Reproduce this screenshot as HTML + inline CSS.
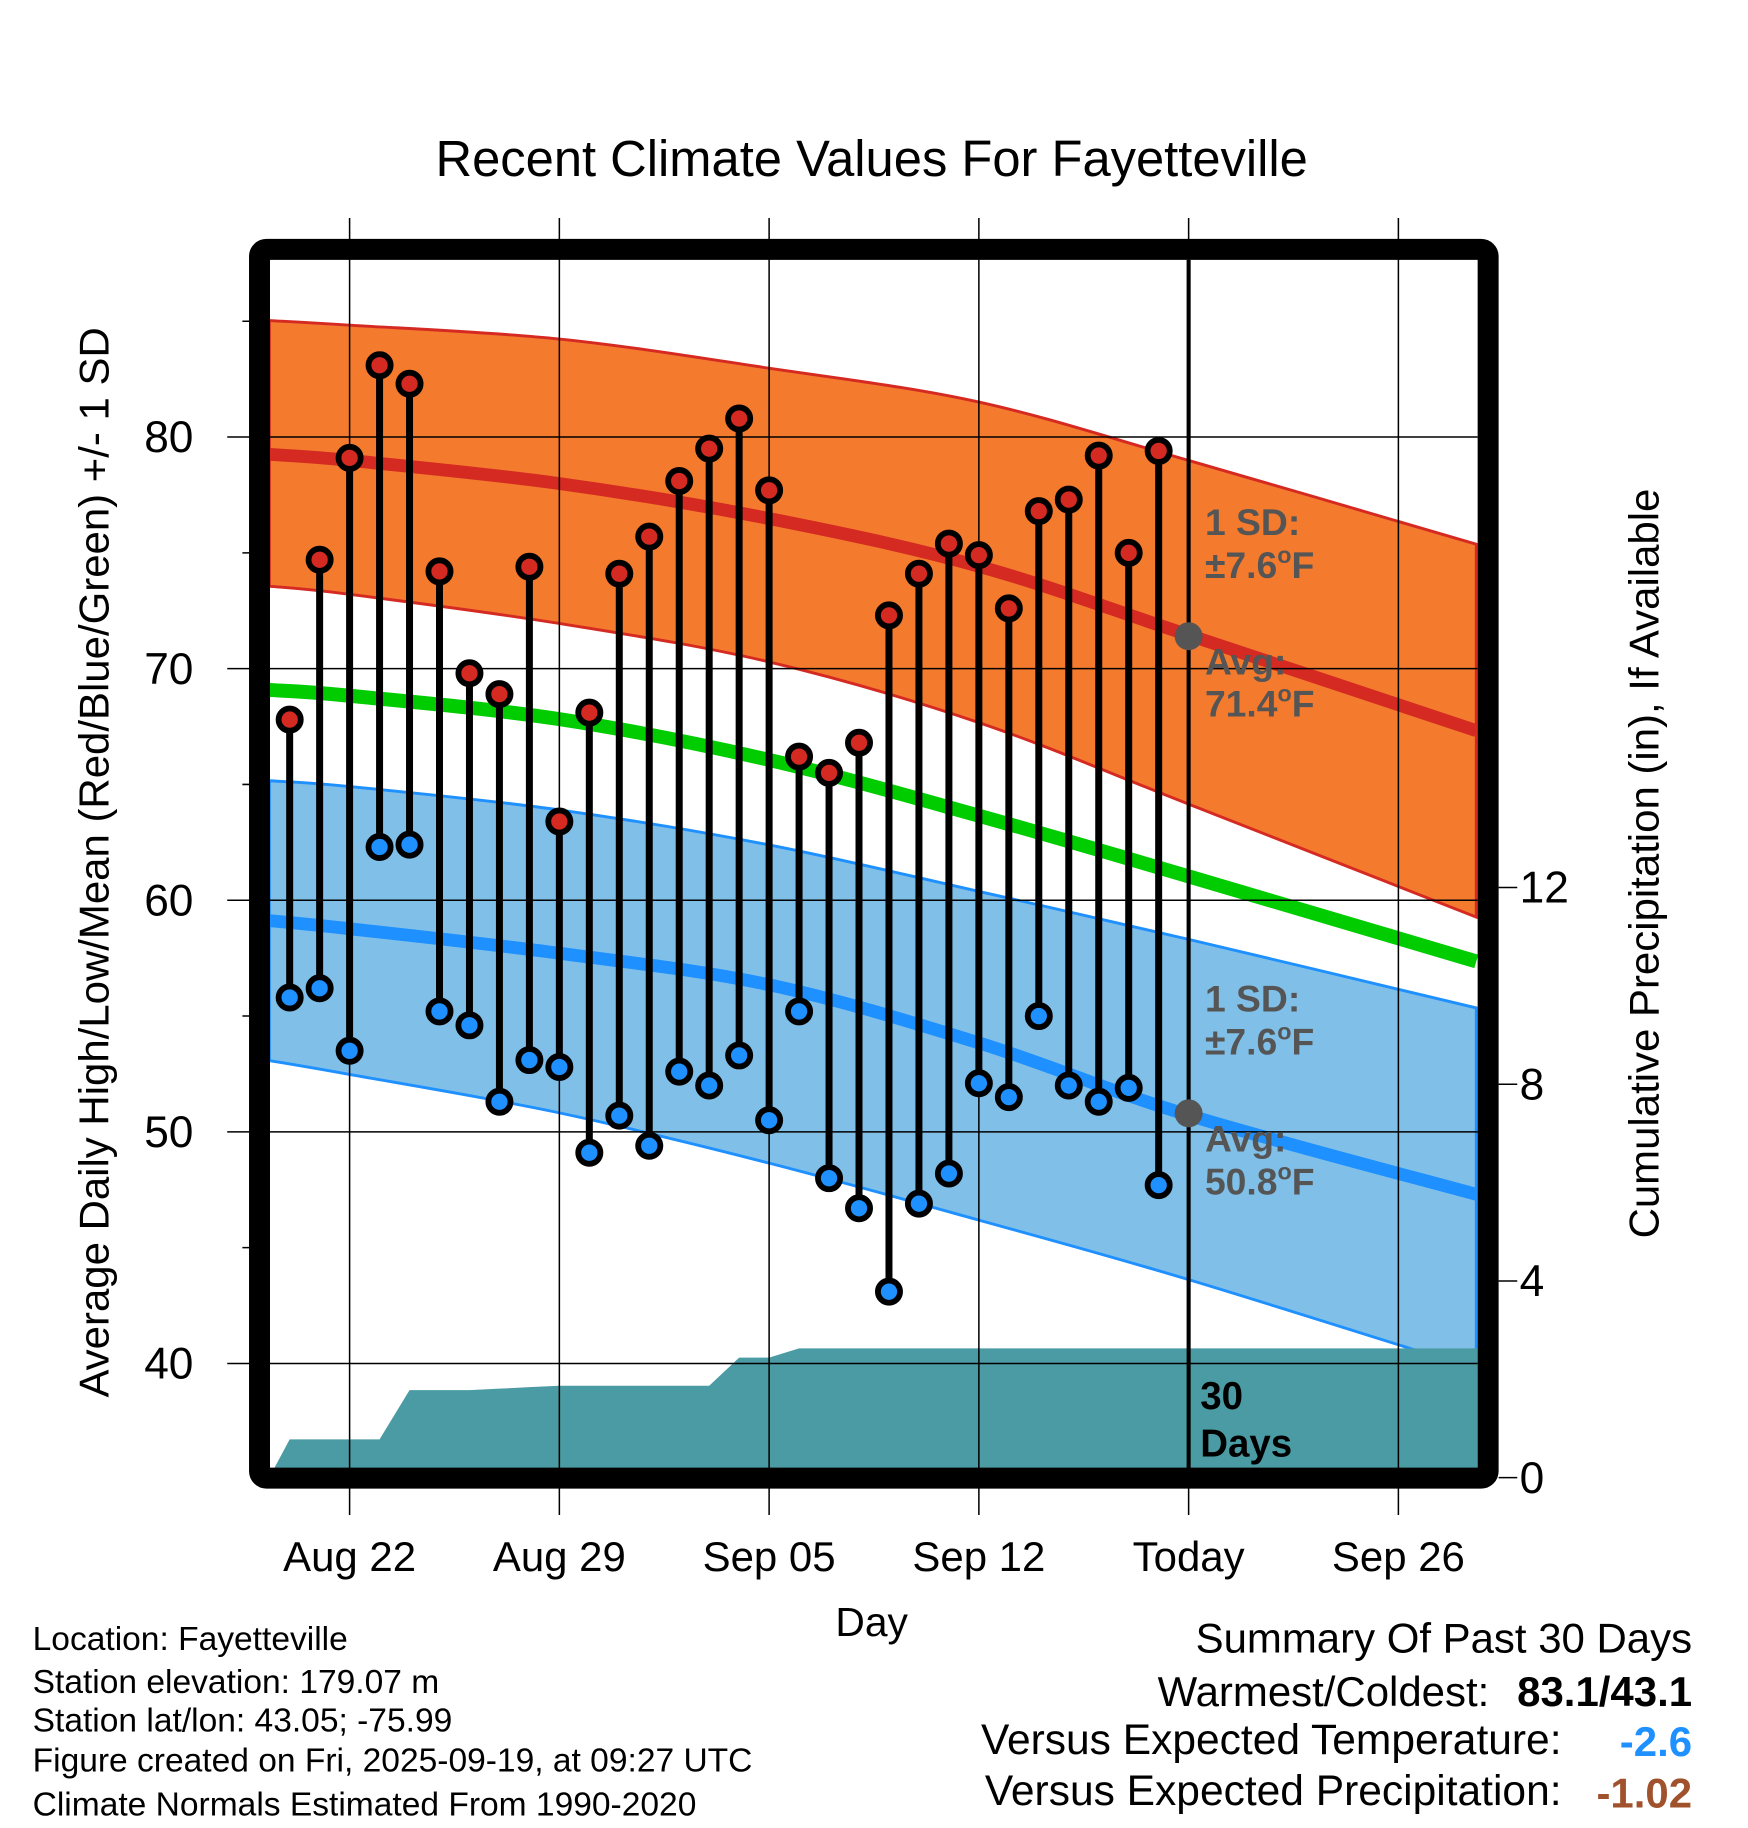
<!DOCTYPE html>
<html><head><meta charset="utf-8"><style>html,body{margin:0;padding:0;background:#fff}svg{display:block}text{font-family:"Liberation Sans",sans-serif}</style></head>
<body>
<svg id="chart" width="1748" height="1828" viewBox="0 0 1500 1568.6" xmlns="http://www.w3.org/2000/svg">
<g id="g"></g>
</svg>
<script>
const normDays=[-2.68,0,7,14,21,28,37.6];
const highTop=[85.03,84.83,84.23,82.97,81.51,78.99,75.37];
const highMean=[79.25,78.99,77.99,76.48,74.42,71.45,67.32];
const highBot=[73.56,73.21,71.95,70.29,67.67,64.15,59.27];
const meanLine=[69.08,68.83,67.82,66.06,63.65,61.03,57.36];
const lowTop=[65.16,64.91,63.90,62.39,60.38,58.31,55.35];
const lowMean=[59.12,58.77,57.71,56.35,53.84,50.72,47.30];
const lowBot=[53.08,52.48,50.82,48.65,46.19,43.62,39.75];
const highs=[67.8,74.7,79.1,83.1,82.3,74.2,69.8,68.9,74.4,63.4,68.1,74.1,75.7,78.1,79.5,80.8,77.7,66.2,65.5,66.8,72.3,74.1,75.4,74.9,72.6,76.8,77.3,79.2,75.0,79.4];
const lows=[55.8,56.2,53.5,62.3,62.4,55.2,54.6,51.3,53.1,52.8,49.1,50.7,49.4,52.6,52.0,53.3,50.5,55.2,48.0,46.7,43.1,46.9,48.2,52.1,51.5,55.0,52.0,51.3,51.9,47.7];
const precip=[0.78,0.78,0.78,0.78,1.78,1.78,1.78,1.81,1.84,1.87,1.87,1.87,1.87,1.87,1.87,2.44,2.44,2.63,2.63,2.63,2.63,2.63,2.63,2.63,2.63,2.63,2.63,2.63,2.63,2.63];
const tempTicks=[40,50,60,70,80];
const precipTicks=[0,4,8,12];
const dateTicks=["Aug 22","Aug 29","Sep 05","Sep 12","Today","Sep 26"];
const firstDataDay=-2;

const L=231,R=1268,T=223,B=1260;
const x=d=>300+d*25.714;
const y=t=>1170-(t-40)*19.875;
const yp=p=>1268-p*42.2;
const g=document.getElementById('g');
const NS='http://www.w3.org/2000/svg';
function mk(tag,a,parent){const e=document.createElementNS(NS,tag);for(const k in a)e.setAttribute(k,a[k]);(parent||g).appendChild(e);return e;}
function curve(days,vals){const p=days.map((d,i)=>[x(d),y(vals[i])]);let s=`M${p[0][0]},${p[0][1]}`;for(let i=0;i<p.length-1;i++){const p0=p[i-1]||p[i],p1=p[i],p2=p[i+1],p3=p[i+2]||p[i+1];s+=` C${p1[0]+(p2[0]-p0[0])/6},${p1[1]+(p2[1]-p0[1])/6} ${p2[0]-(p3[0]-p1[0])/6},${p2[1]-(p3[1]-p1[1])/6} ${p2[0]},${p2[1]}`;}return s;}
function revCurve(days,vals){return curve(days.slice().reverse(),vals.slice().reverse()).replace(/^M/,'L');}
const clip=mk('clipPath',{id:'pc'});mk('rect',{x:L,y:T,width:R-L,height:B-T},clip);
const inner=mk('g',{'clip-path':'url(#pc)'});
let e;
e=mk('path',{d:curve(normDays,highTop)+' '+revCurve(normDays,highBot)+'Z',fill:'#f47a2e',stroke:'#d42a22','stroke-width':2.5},inner);

e=mk('path',{d:curve(normDays,lowTop)+' '+revCurve(normDays,lowBot)+'Z',fill:'#80c0e8',stroke:'#1e90ff','stroke-width':2.5},inner);

e=mk('path',{d:curve(normDays,highMean),fill:'none',stroke:'#d42a22','stroke-width':11},inner);

e=mk('path',{d:curve(normDays,meanLine),fill:'none',stroke:'#00cc00','stroke-width':12},inner);

e=mk('path',{d:curve(normDays,lowMean),fill:'none',stroke:'#1e90ff','stroke-width':11},inner);

let pd=`M${L},${B} L${L},${yp(0)}`;
precip.forEach((v,i)=>{pd+=` L${x(firstDataDay+i)},${yp(v)}`;});
pd+=` L${R},${yp(precip[precip.length-1])} L${R},${B} Z`;
e=mk('path',{d:pd,fill:'#4a9ba3'},inner);

tempTicks.forEach(t=>{e=mk('line',{x1:195,x2:R,y1:y(t),y2:y(t),stroke:'#000','stroke-width':1.3});

e=mk('text',{x:166,y:y(t)+13,'font-size':38,'text-anchor':'end'});e.textContent=t;
});
[45,55,65,75,85].forEach(t=>{mk('line',{x1:208,x2:222,y1:y(t),y2:y(t),stroke:'#000','stroke-width':1.3});});
dateTicks.forEach((lab,i)=>{const xx=x(i*7);
e=mk('line',{x1:xx,x2:xx,y1:187,y2:1300,stroke:'#000','stroke-width':1.3});

e=mk('text',{x:xx,y:1348,'font-size':36,'text-anchor':'middle'});e.textContent=lab;
});
precipTicks.forEach(p=>{mk('line',{x1:1286,x2:1302,y1:yp(p),y2:yp(p),stroke:'#000','stroke-width':1.3});
e=mk('text',{x:1304,y:yp(p)+13,'font-size':38});e.textContent=p;
});
e=mk('line',{x1:x(28),x2:x(28),y1:T,y2:B,stroke:'#000','stroke-width':3.5});

highs.forEach((h,i)=>{const xx=x(firstDataDay+i);
e=mk('line',{x1:xx,x2:xx,y1:y(h),y2:y(lows[i]),stroke:'#000','stroke-width':6});

e=mk('circle',{cx:xx,cy:y(h),r:9.5,fill:'#d42a22',stroke:'#000','stroke-width':5});

e=mk('circle',{cx:xx,cy:y(lows[i]),r:9.5,fill:'#1e90ff',stroke:'#000','stroke-width':5});
});
e=mk('circle',{cx:x(28),cy:y(71.4),r:12,fill:'#555'});

e=mk('circle',{cx:x(28),cy:y(50.8),r:12,fill:'#555'});

e=mk('rect',{x:222.7,y:214,width:1054.3,height:1054.4,fill:'none',stroke:'#000','stroke-width':18,rx:6});

function txt(s,a,name){const t=mk('text',a);t.innerHTML=s;return t;}
const lb={'font-size':32,'font-weight':'bold',fill:'#555'};
const deg='<tspan dy="-13" font-size="20">o</tspan><tspan dy="13">F</tspan>';
txt('1 SD:',{...lb,x:1034,y:459},'high-sd-label');
txt('±7.6'+deg,{...lb,x:1034,y:496},'high-sd-value');
txt('Avg:',{...lb,x:1034,y:579},'high-avg-label');
txt('71.4'+deg,{...lb,x:1034,y:615},'high-avg-value');
txt('1 SD:',{...lb,x:1034,y:868},'low-sd-label');
txt('±7.6'+deg,{...lb,x:1034,y:905},'low-sd-value');
txt('Avg:',{...lb,x:1034,y:988},'low-avg-label');
txt('50.8'+deg,{...lb,x:1034,y:1025},'low-avg-value');
txt('30',{x:1030,y:1209,'font-size':33,'font-weight':'bold'},'precip-days-label');
txt('Days',{x:1030,y:1250,'font-size':33,'font-weight':'bold'},'precip-days-label2');
txt('Recent Climate Values For Fayetteville',{x:748,y:151,'font-size':43.5,'text-anchor':'middle'},'chart-title');
txt('Average Daily High/Low/Mean (Red/Blue/Green) +/- 1 SD',{x:0,y:0,'font-size':36,'text-anchor':'middle',transform:'translate(93,740) rotate(-90)'},'y-axis-title');
txt('Cumulative Precipitation (in), If Available',{x:0,y:0,'font-size':36,'text-anchor':'middle',transform:'translate(1423,741) rotate(-90)'},'precip-axis-title');
txt('Day',{x:748,y:1404,'font-size':35,'text-anchor':'middle'},'x-axis-title');
const info=['Location: Fayetteville','Station elevation: 179.07 m','Station lat/lon: 43.05; -75.99','Figure created on Fri, 2025-09-19, at 09:27 UTC','Climate Normals Estimated From 1990-2020'];
const iy=[1416,1453,1486,1520,1558];
info.forEach((s,i)=>txt(s,{x:28,y:iy[i],'font-size':28.8},'station-info-line'));
txt('Summary Of Past 30 Days',{x:1452,y:1418,'font-size':36,'text-anchor':'end'},'summary-title');
txt('Warmest/Coldest:',{x:1278,y:1464,'font-size':36,'text-anchor':'end'},'warmest-coldest-label');
txt('83.1/43.1',{x:1452,y:1464,'font-size':36,'font-weight':'bold','text-anchor':'end'},'warmest-coldest-value');
txt('Versus Expected Temperature:',{x:1340,y:1505,'font-size':36.5,'text-anchor':'end'},'temp-anomaly-label');
txt('-2.6',{x:1452,y:1507,'font-size':36,'font-weight':'bold','text-anchor':'end',fill:'#1e90ff'},'temp-anomaly-value');
txt('Versus Expected Precipitation:',{x:1340,y:1549,'font-size':36.5,'text-anchor':'end'},'precip-anomaly-label');
txt('-1.02',{x:1452,y:1551,'font-size':36,'font-weight':'bold','text-anchor':'end',fill:'#a0522d'},'precip-anomaly-value');
</script>
</body></html>
